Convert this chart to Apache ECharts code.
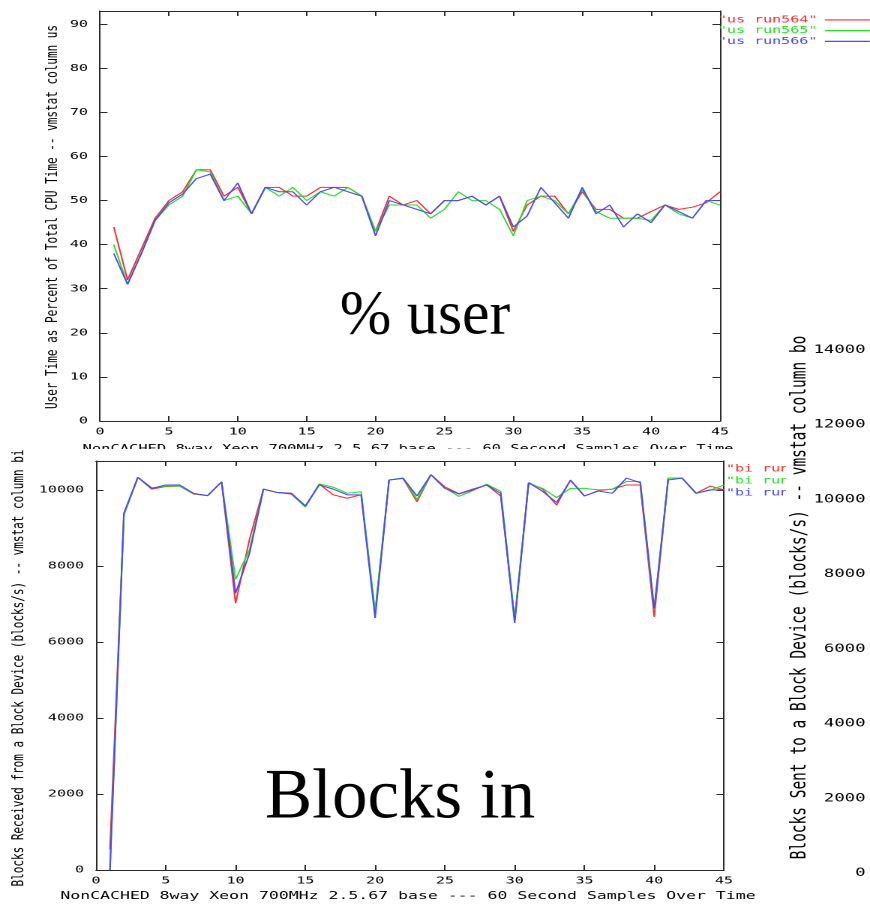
<!DOCTYPE html>
<html>
<head>
<meta charset="utf-8">
<title>vmstat: %user and blocks in</title>
<script src="https://cdn.jsdelivr.net/npm/echarts@6/dist/echarts.min.js"></script>
<style>
  html, body { margin: 0; padding: 0; background: #fff; overflow: hidden; }
  /* the plots are laid out 580 px wide and stretched horizontally */
  #chart { width: 580px; height: 904px; transform: scaleX(1.5); transform-origin: 0 0; }
</style>
</head>
<body>
<div id="chart"></div>
<script>
// ---- data: one sample every 60 seconds ----
const samples = [1, 2, 3, 4, 5, 6, 7, 8, 9, 10, 11, 12, 13, 14, 15, 16, 17, 18, 19, 20,
                 21, 22, 23, 24, 25, 26, 27, 28, 29, 30, 31, 32, 33, 34, 35, 36, 37, 38, 39, 40,
                 41, 42, 43, 44, 45];

// vmstat column "us"
const us564 = [44, 32, 39, 46, 50, 52, 57, 57, 51, 53, 47, 53, 53, 51, 51, 53, 53, 53, 51, 43,
               51, 49, 50, 47, 50, 50, 51, 49, 51, 43, 49, 51, 51, 47, 52, 48, 48, 46, 46, 47.5,
               49, 48, 48.5, 49.5, 52];
const us565 = [40, 31, 38, 45.5, 49, 51, 57, 56.5, 50, 51, 47, 53, 51, 53, 50, 52, 51, 53, 51, 43,
               49, 49, 49, 46, 48, 52, 50, 50, 48, 42, 50, 51, 50, 47, 52.5, 47.5, 46, 46, 46, 45.5,
               49, 47, 46, 50, 49];
const us566 = [38, 31, 38, 45.5, 49.5, 51.5, 55, 56, 50, 54, 47, 53, 52, 52, 49, 52, 53, 52, 51, 42,
               50, 49, 48, 47, 50, 50, 51, 49, 51, 44, 46.5, 53, 49.5, 46, 53, 47, 49, 44, 47, 45,
               49, 47.5, 46, 50, 50];

// vmstat column "bi"
const bi564 = [550, 9350, 10330, 10020, 10090, 10100, 9890, 9850, 10210, 7020,
               8700, 10020, 9930, 9890, 9550, 10150, 9870, 9780, 9870, 6750,
               10260, 10300, 9690, 10400, 10080, 9900, 10020, 10130, 9840, 6580,
               10190, 10020, 9600, 10260, 9840, 9980, 10020, 10130, 10130, 6660,
               10310, 10310, 9910, 10100, 10000];
const bi565 = [0, 9350, 10330, 10050, 10100, 10100, 9900, 9850, 10210, 7650,
               8420, 10020, 9930, 9910, 9550, 10160, 10070, 9910, 9950, 6800,
               10260, 10310, 9750, 10400, 10050, 9830, 9980, 10150, 9960, 6620,
               10170, 10040, 9800, 10040, 10040, 10000, 10020, 10220, 10220, 6840,
               10310, 10310, 9910, 9990, 10130];
const bi566 = [0, 9390, 10330, 10040, 10130, 10130, 9910, 9850, 10210, 7280,
               8330, 10020, 9930, 9910, 9580, 10130, 10020, 9870, 9870, 6630,
               10260, 10310, 9840, 10400, 10040, 9890, 10000, 10130, 9910, 6500,
               10190, 9960, 9670, 10250, 9840, 9970, 9910, 10310, 10190, 6880,
               10260, 10310, 9910, 10000, 10000];

const usNames = ['"us run564"', '"us run565"', '"us run566"'];
const biNames = ['"bi run564"', '"bi run565"', '"bi run566"'];

// ---- tick labels ----
const sampleTicks = [0, 5, 10, 15, 20, 25, 30, 35, 40, 45];
const usTicks = [0, 10, 20, 30, 40, 50, 60, 70, 80, 90];
const biTicks = [0, 2000, 4000, 6000, 8000, 10000];
const boTicks = [0, 2000, 4000, 6000, 8000, 10000, 12000, 14000];

const caption = 'NonCACHED 8way Xeon 700MHz 2.5.67 base --- 60 Second Samples Over Time';

// ---- styling ----
const SX = 1.5;              // horizontal stretch of the page
const ux = v => v / SX;      // page x -> drawing x
const MONO = '"DejaVu Sans Mono", "Liberation Mono", monospace';
const SERIF = '"Liberation Serif", "Times New Roman", serif';
const INK = '#000';
const FRAME = '#2a2a2a';
const COLORS = ['#ff2b2b', '#24e024', '#4848ff'];

function axes(kind, gridIndex, max, step, ticks, margin) {
  const common = {
    gridIndex: gridIndex, type: 'value', min: 0, max: max, interval: step,
    axisLine: { show: true, onZero: false, lineStyle: { color: FRAME, width: 1 } },
    axisTick: { show: true, inside: true, length: 5, lineStyle: { color: FRAME, width: 1 } },
    splitLine: { show: false },
    z: 1
  };
  const main = Object.assign({}, common, {
    position: kind === 'x' ? 'bottom' : 'left',
    axisLabel: {
      show: true, fontFamily: MONO, fontSize: 10, color: INK, margin: margin,
      formatter: v => (ticks.indexOf(v) >= 0 ? String(v) : '')
    }
  });
  const mirror = Object.assign({}, common, {
    position: kind === 'x' ? 'top' : 'right',
    axisLabel: { show: false }
  });
  return [main, mirror];
}

function lineSeries(name, values, color, axisIndex) {
  return {
    name: name, type: 'line',
    xAxisIndex: axisIndex, yAxisIndex: axisIndex,
    data: samples.map((s, i) => [s, values[i]]),
    symbol: 'none', showSymbol: false,
    lineStyle: { color: color, width: 1 },
    itemStyle: { color: color },
    silent: true, animation: false, z: 2
  };
}

function legend(names, left, top, rowHeight) {
  return {
    left: left, top: top, orient: 'vertical', align: 'right',
    icon: 'rect', itemWidth: 30, itemHeight: 1.2, itemGap: 0, padding: 0,
    selectedMode: false,
    textStyle: { fontFamily: MONO, fontSize: 10, lineHeight: rowHeight, padding: 0 },
    data: names.map((n, i) => ({ name: n, textStyle: { color: COLORS[i] } }))
  };
}

function label(text, x, y, opts) {
  const o = opts || {};
  return {
    type: 'text', x: x, y: y, rotation: o.rotation || 0,
    scaleX: o.scaleX || 1, z: o.z || 5, silent: true,
    style: {
      text: text, fill: o.color || INK,
      fontFamily: o.family || MONO, fontSize: o.size || 11,
      align: 'center', verticalAlign: 'middle',
      textAlign: 'center', textVerticalAlign: 'middle'
    }
  };
}

const usX = axes('x', 0, 45, 5, sampleTicks, 6);
const usY = axes('y', 0, 93, 10, usTicks, 8);
const biX = axes('x', 1, 45, 5, sampleTicks, 6);
const biY = axes('y', 1, 10760, 2000, biTicks, 8);

const option = {
  animation: false,
  backgroundColor: '#fff',
  grid: [
    { left: ux(100), top: 11, width: ux(720) - ux(100), height: 410, containLabel: false, outerBoundsMode: 'none' },
    { left: ux(96), top: 461, width: ux(724) - ux(96), height: 409, containLabel: false, outerBoundsMode: 'none' },
    { left: 585, top: 350, width: 20, height: 523, containLabel: false, outerBoundsMode: 'none' }
  ],
  xAxis: [usX[0], usX[1], biX[0], biX[1],
    { gridIndex: 2, type: 'value', min: 0, max: 1, show: false }],
  yAxis: [usY[0], usY[1], biY[0], biY[1],
    { gridIndex: 2, type: 'value', min: 0, max: 14000, interval: 2000, position: 'left', z: 60,
      axisLine: { show: false, onZero: false }, axisTick: { show: false }, splitLine: { show: false },
      axisLabel: { fontFamily: MONO, fontSize: 11.5, color: INK, margin: 8,
        formatter: v => (boTicks.indexOf(v) >= 0 ? String(v) : '') } }],
  legend: [
    legend(usNames, ux(718), 14.6, 10.7),
    legend(biNames, ux(726), 463, 12)
  ],
  series: [
    lineSeries(usNames[0], us564, COLORS[0], 0),
    lineSeries(usNames[1], us565, COLORS[1], 0),
    lineSeries(usNames[2], us566, COLORS[2], 0),
    lineSeries(biNames[0], bi564, COLORS[0], 2),
    lineSeries(biNames[1], bi565, COLORS[1], 2),
    lineSeries(biNames[2], bi566, COLORS[2], 2)
  ],
  graphic: { elements: [
    // %user panel texts
    label(caption, ux(408), 449.5, { z: 1, size: 10.3 }),
    { type: 'rect', z: 3, silent: true, shape: { x: ux(40), y: 449, width: ux(760), height: 9 },
      style: { fill: '#fff' } },
    label('User Time as Percent of Total CPU Time -- vmstat column us', ux(53), 217,
      { rotation: Math.PI / 2 }),
    label('% user', ux(425), 317, { family: SERIF, size: 62, scaleX: 1 / SX }),
    // blocks-in panel texts
    label('Blocks Received from a Block Device (blocks/s) -- vmstat column bi', ux(19), 668,
      { rotation: Math.PI / 2 }),
    label(caption, ux(408), 896),
    label('Blocks in', ux(400), 799, { family: SERIF, size: 71, scaleX: 1 / SX }),
    // blocks-out panel edge
    { type: 'rect', z: 50, silent: true, shape: { x: ux(786), y: 330, width: 80, height: 600 },
      style: { fill: '#fff' } },
    label('Blocks Sent to a Block Device (blocks/s) -- vmstat column bo', ux(800), 597.5,
      { rotation: Math.PI / 2, size: 14.5, z: 60 })
  ] }
};

const chart = echarts.init(document.getElementById('chart'), null,
  { renderer: 'canvas', devicePixelRatio: 2, width: 580, height: 904 });
chart.setOption(option);
</script>
</body>
</html>
